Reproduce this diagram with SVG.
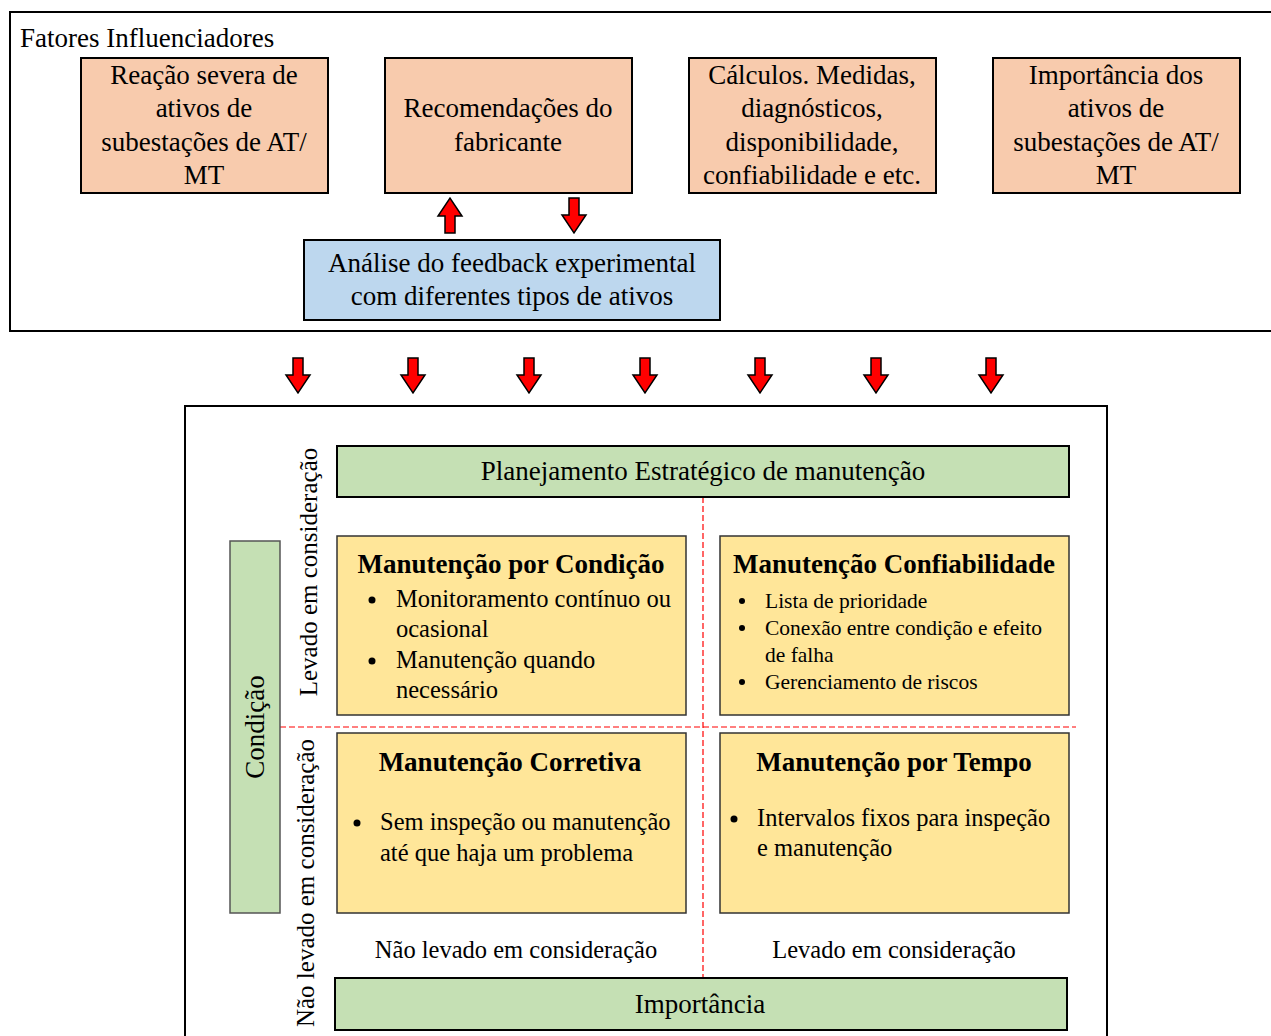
<svg xmlns="http://www.w3.org/2000/svg" width="1271" height="1036" viewBox="0 0 1271 1036" font-family="'Liberation Serif', Tinos, 'Times New Roman', 'Noto Serif', 'DejaVu Serif', serif">
<style>
text{font-family:'Liberation Serif', Tinos, 'Times New Roman', 'Noto Serif', 'DejaVu Serif', serif;font-size:27px;fill:#000}
.c{text-anchor:middle}
.b{font-weight:bold}
.s{font-size:21.5px}
.m{font-size:24.5px}
.v{font-size:25px}
.frame{fill:#fff;stroke:#000;stroke-width:2}
.or{fill:#F8CBAD;stroke:#000;stroke-width:2}
.bl{fill:#BDD7EE;stroke:#000;stroke-width:2}
.gr{fill:#C5E0B4;stroke:#000;stroke-width:2}
.gr2{fill:#C5E0B4;stroke:#555;stroke-width:1.5}
.ye{fill:#FFE699;stroke:#333;stroke-width:1.5}
.arr{fill:#FF0000;stroke:#000;stroke-width:1.5;stroke-linejoin:miter}
.dash{stroke:#FF0000;stroke-width:1.2;stroke-dasharray:6,3;fill:none}
</style>
<defs>
<path id="dn" d="M-5,0 h10 v17 h7 l-12,18 l-12,-18 h7 z"/>
</defs>
<rect width="1271" height="1036" fill="#fff"/>

<g id="fatores">
<rect class="frame" x="10" y="12" width="1275" height="319"/>
<text x="20" y="47">Fatores Influenciadores</text>
</g>

<g id="reacao">
<rect class="or" x="81" y="58" width="247" height="135"/>
<text class="c" x="204" y="84">Reação severa de</text>
<text class="c" x="204" y="117">ativos de</text>
<text class="c" x="204" y="151">subestações de AT/</text>
<text class="c" x="204" y="184">MT</text>
</g>

<g id="recomendacoes">
<rect class="or" x="385" y="58" width="247" height="135"/>
<text class="c" x="508" y="117">Recomendações do</text>
<text class="c" x="508" y="151">fabricante</text>
</g>

<g id="calculos">
<rect class="or" x="689" y="58" width="247" height="135"/>
<text class="c" x="812" y="84">Cálculos. Medidas,</text>
<text class="c" x="812" y="117">diagnósticos,</text>
<text class="c" x="812" y="151">disponibilidade,</text>
<text class="c" x="812" y="184">confiabilidade e etc.</text>
</g>

<g id="importancia-ativos">
<rect class="or" x="993" y="58" width="247" height="135"/>
<text class="c" x="1116" y="84">Importância dos</text>
<text class="c" x="1116" y="117">ativos de</text>
<text class="c" x="1116" y="151">subestações de AT/</text>
<text class="c" x="1116" y="184">MT</text>
</g>

<g id="analise">
<rect class="bl" x="304" y="240" width="416" height="80"/>
<text class="c" x="512" y="272">Análise do feedback experimental</text>
<text class="c" x="512" y="305">com diferentes tipos de ativos</text>
</g>

<g id="connectors">
<use href="#dn" class="arr" transform="translate(450,233) rotate(180)"/>
<use href="#dn" class="arr" transform="translate(574,198)"/>
<use href="#dn" class="arr" transform="translate(298,358)"/>
<use href="#dn" class="arr" transform="translate(413,358)"/>
<use href="#dn" class="arr" transform="translate(529,358)"/>
<use href="#dn" class="arr" transform="translate(645,358)"/>
<use href="#dn" class="arr" transform="translate(760,358)"/>
<use href="#dn" class="arr" transform="translate(876,358)"/>
<use href="#dn" class="arr" transform="translate(991,358)"/>
</g>

<g id="matriz">
<rect class="frame" x="185" y="406" width="922" height="640"/>
</g>

<g id="divisores">
<line class="dash" x1="703" y1="497" x2="703" y2="978"/>
<line class="dash" x1="280" y1="727" x2="1076" y2="727"/>
</g>

<g id="planejamento">
<rect class="gr" x="337" y="446" width="732" height="51"/>
<text class="c" x="703" y="480">Planejamento Estratégico de manutenção</text>
</g>

<g id="condicao">
<rect class="gr2" x="230" y="541" width="50" height="372"/>
<text class="c" transform="translate(264,727) rotate(-90)">Condição</text>
</g>

<g id="eixo-levado">
<text class="c v" transform="translate(317,572) rotate(-90)">Levado em consideração</text>
</g>
<g id="eixo-nao-levado">
<text class="c v" transform="translate(314,883) rotate(-90)">Não levado em consideração</text>
</g>

<g id="mc-condicao">
<rect class="ye" x="337" y="536" width="349" height="179"/>
<text class="c b" x="511" y="573">Manutenção por Condição</text>
<circle cx="372" cy="600" r="3.5"/>
<text class="m" x="396" y="607">Monitoramento contínuo ou</text>
<text class="m" x="396" y="637">ocasional</text>
<circle cx="372" cy="661" r="3.5"/>
<text class="m" x="396" y="668">Manutenção quando</text>
<text class="m" x="396" y="698">necessário</text>
</g>

<g id="mc-confiabilidade">
<rect class="ye" x="720" y="536" width="349" height="179"/>
<text class="c b" x="894" y="573">Manutenção Confiabilidade</text>
<circle cx="742" cy="601" r="3"/>
<text class="s" x="765" y="608">Lista de prioridade</text>
<circle cx="742" cy="628" r="3"/>
<text class="s" x="765" y="635">Conexão entre condição e efeito</text>
<text class="s" x="765" y="662">de falha</text>
<circle cx="742" cy="682" r="3"/>
<text class="s" x="765" y="689">Gerenciamento de riscos</text>
</g>

<g id="mc-corretiva">
<rect class="ye" x="337" y="733" width="349" height="180"/>
<text class="c b" x="510" y="771">Manutenção Corretiva</text>
<circle cx="357" cy="823" r="3.5"/>
<text class="m" x="380" y="830">Sem inspeção ou manutenção</text>
<text class="m" x="380" y="861">até que haja um problema</text>
</g>

<g id="mc-tempo">
<rect class="ye" x="720" y="733" width="349" height="180"/>
<text class="c b" x="894" y="771">Manutenção por Tempo</text>
<circle cx="734" cy="819" r="3.5"/>
<text class="m" x="757" y="826">Intervalos fixos para inspeção</text>
<text class="m" x="757" y="856">e manutenção</text>
</g>

<g id="rotulos-base">
<text class="c m" x="516" y="958">Não levado em consideração</text>
<text class="c m" x="894" y="958">Levado em consideração</text>
</g>

<g id="importancia">
<rect class="gr" x="335" y="978" width="732" height="52"/>
<text class="c" x="700" y="1013">Importância</text>
</g>
</svg>
